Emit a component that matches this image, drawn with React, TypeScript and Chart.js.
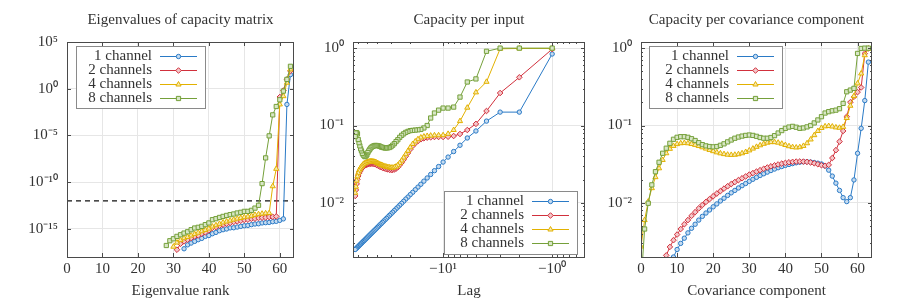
import React, { useEffect, useRef } from 'react';
import { Chart, registerables } from 'chart.js';

Chart.register(...registerables);

const FONT = "'Liberation Serif', 'Times New Roman', serif";
const TEXT = '#333333';
const FRAME = '#4a4a4a';
const GRID = '#e6e6e6';
const LEGEND_BORDER = '#8a8a8a';

const seriesNames = ['1 channel', '2 channels', '4 channels', '8 channels'];
const lineColors = ['#2a7ac6', '#d1303c', '#e2b100', '#75a03a'];
const fillColors = ['#c5dbf0', '#f3c6c9', '#f7e9b0', '#d8e6c6'];
const markerStyles = ['circle', 'rectRot', 'triangle', 'rect'];
const markerRadius = [2.2, 2.8, 3, 3];

// ---------- Panel 1: eigenvalues ----------
const ranks = [0, 1, 2, 3, 4, 5, 6, 7, 8, 9, 10, 11, 12, 13, 14, 15, 16, 17, 18, 19, 20, 21, 22, 23, 24, 25, 26, 27, 28, 29, 30, 31, 32, 33, 34, 35, 36, 37, 38, 39, 40, 41, 42, 43, 44, 45, 46, 47, 48, 49, 50, 51, 52, 53, 54, 55, 56, 57, 58, 59, 60, 61, 62, 63];
const eigStart = [33, 31, 30, 28];
const eig1ch = [7.6e-18, 2.0e-17, 3.1e-17, 4.7e-17, 7.1e-17, 9.8e-17, 1.6e-16, 2.0e-16, 3.1e-16, 4.3e-16, 6.5e-16, 8.3e-16, 1.0e-15, 1.3e-15, 1.35e-15, 1.6e-15, 1.9e-15, 2.2e-15, 2.4e-15, 2.9e-15, 3.4e-15, 3.6e-15, 4.4e-15, 4.7e-15, 5.0e-15, 6.0e-15, 6.5e-15, 8.3e-15, 1.2e-14, 2.1e-2, 32];
const eig2ch = [6.0e-18, 2.6e-17, 4.7e-17, 7.1e-17, 1.07e-16, 1.6e-16, 2.0e-16, 3.1e-16, 4.3e-16, 7.1e-16, 1.3e-15, 1.6e-15, 2.2e-15, 2.9e-15, 3.6e-15, 4.4e-15, 5.5e-15, 6.5e-15, 7.6e-15, 9.1e-15, 9.8e-15, 1.2e-14, 1.26e-14, 1.5e-14, 1.6e-14, 1.7e-14, 1.9e-14, 2.0e-14, 2.2e-14, 0.13, 0.63, 10, 80];
const eig4ch = [1.26e-17, 3.5e-17, 6.3e-17, 1.0e-16, 1.4e-16, 2.0e-16, 2.8e-16, 4.0e-16, 5.6e-16, 7.9e-16, 1.1e-15, 1.8e-15, 2.5e-15, 3.5e-15, 5.0e-15, 6.3e-15, 7.9e-15, 1.0e-14, 1.26e-14, 1.5e-14, 1.8e-14, 2.1e-14, 2.5e-14, 3.2e-14, 3.8e-14, 4.3e-14, 4.7e-14, 5.0e-14, 3.7e-11, 2.7e-9, 2.1e-2, 0.16, 4.4, 117];
const eig8ch = [1.7e-17, 5.5e-17, 8.9e-17, 1.6e-16, 2.4e-16, 3.6e-16, 5.0e-16, 8.3e-16, 1.26e-15, 1.5e-15, 1.9e-15, 2.9e-15, 4.4e-15, 9.8e-15, 1.26e-14, 1.7e-14, 2.2e-14, 2.8e-14, 3.4e-14, 4.0e-14, 5.1e-14, 6.0e-14, 7.6e-14, 7.6e-14, 9.8e-14, 1.7e-13, 3.4e-13, 7.1e-11, 4.0e-8, 9.1e-6, 1.6e-3, 1.26e-2, 6.6e-2, 0.56, 10, 250];
const eigThreshold = 1e-12;
const eigXTicks = [0, 10, 20, 30, 40, 50, 60];
const eigYTicks = [1e-15, 1e-10, 1e-5, 1, 1e5];
const eigYTickLabels = ['10⁻¹⁵', '10⁻¹⁰', '10⁻⁵', '10⁰', '10⁵'];

// ---------- Panel 2: capacity per input (lag) ----------
const lags = [1, 2, 3, 4, 5, 6, 7, 8, 9, 10, 11, 12, 13, 14, 15, 16, 17, 18, 19, 20, 21, 22, 23, 24, 25, 26, 27, 28, 29, 30, 31, 32, 33, 34, 35, 36, 37, 38, 39, 40, 41, 42, 43, 44, 45, 46, 47, 48, 49, 50, 51, 52, 53, 54, 55, 56, 57, 58, 59, 60, 61, 62, 63, 64];
const lag1ch = [0.84, 0.149, 0.149, 0.114, 0.085, 0.069, 0.0556, 0.0461, 0.0391, 0.0337, 0.0295, 0.0261, 0.0233, 0.021, 0.0191, 0.0174, 0.016, 0.0148, 0.0137, 0.0128, 0.0119, 0.0112, 0.0105, 0.00988, 0.00933, 0.00883, 0.00838, 0.00796, 0.00758, 0.00722, 0.0069, 0.0066, 0.00632, 0.00606, 0.00582, 0.0056, 0.00538, 0.00519, 0.005, 0.00483, 0.00466, 0.00451, 0.00436, 0.00422, 0.00409, 0.00397, 0.00385, 0.00374, 0.00363, 0.00353, 0.00343, 0.00334, 0.00325, 0.00317, 0.00309, 0.00301, 0.00294, 0.00287, 0.0028, 0.00273, 0.00267, 0.00261, 0.00256, 0.0025];
const lag2ch = [0.97, 0.42, 0.263, 0.154, 0.105, 0.0875, 0.0777, 0.0732, 0.0716, 0.0711, 0.0711, 0.0711, 0.0704, 0.0697, 0.0684, 0.0664, 0.0631, 0.0589, 0.0544, 0.0492, 0.0442, 0.04, 0.0362, 0.0331, 0.0309, 0.0289, 0.0277, 0.0271, 0.0267, 0.0267, 0.0268, 0.0271, 0.0274, 0.0277, 0.0281, 0.0285, 0.029, 0.0294, 0.03, 0.0306, 0.0311, 0.0316, 0.0319, 0.0321, 0.0322, 0.0322, 0.0321, 0.0319, 0.0316, 0.0312, 0.0309, 0.0306, 0.03, 0.0294, 0.0285, 0.0277, 0.0267, 0.0254, 0.0242, 0.0223, 0.0202, 0.0176, 0.0147, 0.0123];
const lag4ch = [0.99, 0.99, 0.98, 0.367, 0.268, 0.17, 0.114, 0.0875, 0.078, 0.075, 0.0748, 0.0747, 0.074, 0.0733, 0.072, 0.07, 0.0666, 0.0622, 0.0577, 0.0522, 0.047, 0.0425, 0.0385, 0.0352, 0.0328, 0.0307, 0.0295, 0.0289, 0.0285, 0.0286, 0.0287, 0.029, 0.0293, 0.0296, 0.0301, 0.0305, 0.031, 0.0315, 0.0321, 0.0327, 0.0333, 0.0338, 0.0341, 0.0343, 0.0345, 0.0345, 0.0343, 0.0341, 0.0338, 0.0334, 0.0331, 0.0327, 0.0321, 0.0315, 0.0305, 0.0297, 0.0287, 0.0274, 0.0261, 0.0242, 0.022, 0.0194, 0.0162, 0.0135];
const lag8ch = [1.0, 1.0, 1.0, 0.91, 0.4, 0.365, 0.233, 0.173, 0.168, 0.168, 0.158, 0.145, 0.125, 0.1, 0.093, 0.089, 0.088, 0.0873, 0.0866, 0.0859, 0.0839, 0.0815, 0.078, 0.0746, 0.0704, 0.0655, 0.062, 0.0583, 0.0556, 0.0533, 0.052, 0.0516, 0.0513, 0.0513, 0.0516, 0.0523, 0.0528, 0.0539, 0.0546, 0.055, 0.0552, 0.0552, 0.0546, 0.0539, 0.0528, 0.0513, 0.0493, 0.047, 0.0447, 0.0417, 0.0405, 0.0396, 0.0405, 0.0417, 0.0437, 0.047, 0.05, 0.0546, 0.06, 0.066, 0.078, 0.081, 0.08, 0.072];
const lagXTicks = [1, 10];
const lagXTickLabels = ['−10⁰', '−10¹'];
const lagXMinor = [0.6, 0.7, 0.8, 0.9, 2, 3, 4, 5, 6, 7, 8, 9, 20, 30, 40, 50, 60];

// ---------- Panel 3: capacity per covariance component ----------
const components = [0, 1, 2, 3, 4, 5, 6, 7, 8, 9, 10, 11, 12, 13, 14, 15, 16, 17, 18, 19, 20, 21, 22, 23, 24, 25, 26, 27, 28, 29, 30, 31, 32, 33, 34, 35, 36, 37, 38, 39, 40, 41, 42, 43, 44, 45, 46, 47, 48, 49, 50, 51, 52, 53, 54, 55, 56, 57, 58, 59, 60, 61, 62, 63];
const covStart = [9, 7, 0, 0];
const cov1ch = [0.002, 0.0025, 0.003, 0.0035, 0.0041, 0.0047, 0.0053, 0.006, 0.0067, 0.0074, 0.0081, 0.0089, 0.0097, 0.0106, 0.0115, 0.0125, 0.0135, 0.0145, 0.0156, 0.0167, 0.0178, 0.019, 0.0202, 0.0214, 0.0226, 0.0238, 0.025, 0.0262, 0.0274, 0.0285, 0.0295, 0.0305, 0.0314, 0.0322, 0.033, 0.0336, 0.034, 0.034, 0.0337, 0.0332, 0.0326, 0.0318, 0.03, 0.0265, 0.0222, 0.018, 0.0145, 0.0117, 0.0104, 0.0117, 0.0198, 0.0438, 0.092, 0.21, 0.66];
const cov2ch = [0.0021, 0.0027, 0.0033, 0.0039, 0.0046, 0.0053, 0.006, 0.0068, 0.0076, 0.0085, 0.0094, 0.0103, 0.0112, 0.0122, 0.0132, 0.0142, 0.0153, 0.0164, 0.0175, 0.0186, 0.0197, 0.0208, 0.022, 0.0232, 0.0243, 0.0254, 0.0265, 0.0276, 0.0287, 0.0297, 0.0306, 0.0314, 0.0322, 0.0329, 0.0335, 0.0339, 0.0342, 0.0343, 0.0342, 0.0339, 0.0333, 0.0325, 0.0316, 0.0307, 0.0302, 0.031, 0.038, 0.048, 0.062, 0.085, 0.13, 0.2, 0.235, 0.27, 0.31, 0.85, 0.99];
const cov4ch = [0.00273, 0.006, 0.0104, 0.0155, 0.0215, 0.028, 0.0359, 0.0438, 0.05, 0.0545, 0.0575, 0.059, 0.0595, 0.059, 0.0578, 0.0562, 0.0543, 0.0523, 0.0503, 0.0484, 0.0466, 0.045, 0.0437, 0.0427, 0.042, 0.0417, 0.0419, 0.0426, 0.0438, 0.0455, 0.0477, 0.0503, 0.053, 0.0555, 0.058, 0.06, 0.061, 0.061, 0.06, 0.0582, 0.056, 0.054, 0.0526, 0.052, 0.0525, 0.0545, 0.059, 0.066, 0.075, 0.085, 0.093, 0.0975, 0.0985, 0.097, 0.0945, 0.0935, 0.096, 0.125, 0.18, 0.24, 0.35, 0.47, 0.81, 0.98];
const cov8ch = [0.0009, 0.0046, 0.0099, 0.0171, 0.0253, 0.0335, 0.0438, 0.0509, 0.0589, 0.0664, 0.0704, 0.0717, 0.0717, 0.0704, 0.0675, 0.064, 0.06, 0.0566, 0.0546, 0.0535, 0.053, 0.0535, 0.0555, 0.058, 0.0615, 0.065, 0.0685, 0.071, 0.073, 0.0745, 0.0754, 0.0745, 0.0725, 0.07, 0.0685, 0.0685, 0.07, 0.074, 0.08, 0.086, 0.092, 0.0955, 0.0975, 0.095, 0.092, 0.093, 0.096, 0.1, 0.108, 0.118, 0.13, 0.145, 0.151, 0.155, 0.158, 0.165, 0.193, 0.273, 0.287, 0.302, 0.854, 0.99, 1.0, 1.0];
const covXTicks = [0, 10, 20, 30, 40, 50, 60];

// shared y ticks of panels 2 and 3
const capYTicks = [0.01, 0.1, 1];
const capYTickLabels = ['10⁻²', '10⁻¹', '10⁰'];
const capYMinor = [0.003, 0.004, 0.005, 0.006, 0.007, 0.008, 0.009, 0.02, 0.03, 0.04, 0.05, 0.06, 0.07, 0.08, 0.09, 0.2, 0.3, 0.4, 0.5, 0.6, 0.7, 0.8, 0.9];

type Pt = { x: number; y: number };

function fromStart(xs: number[], start: number, vals: number[]): Pt[] {
  return vals.map((v, i) => ({ x: xs[start + i], y: v }));
}

function labelFor(ticks: number[], labels: string[] | null, v: number): string {
  const i = ticks.findIndex((t) => Math.abs(t - v) <= Math.abs(t) * 1e-6 + 1e-12);
  if (i < 0) return '';
  return labels ? labels[i] : String(ticks[i]);
}

function drawMarker(ctx: CanvasRenderingContext2D, style: string, x: number, y: number, r: number, stroke: string, fill: string) {
  ctx.beginPath();
  if (style === 'circle') {
    ctx.arc(x, y, r, 0, Math.PI * 2);
  } else if (style === 'rect') {
    const s = r * Math.SQRT1_2;
    ctx.rect(x - s, y - s, 2 * s, 2 * s);
  } else if (style === 'rectRot') {
    ctx.moveTo(x, y - r);
    ctx.lineTo(x + r, y);
    ctx.lineTo(x, y + r);
    ctx.lineTo(x - r, y);
    ctx.closePath();
  } else {
    for (let k = 0; k < 3; k++) {
      const a = (k * 2 * Math.PI) / 3;
      const px = x + Math.sin(a) * r;
      const py = y - Math.cos(a) * r;
      if (k === 0) ctx.moveTo(px, py);
      else ctx.lineTo(px, py);
    }
    ctx.closePath();
  }
  ctx.fillStyle = fill;
  ctx.fill();
  ctx.strokeStyle = stroke;
  ctx.lineWidth = 1;
  ctx.stroke();
}

type PanelCfg = {
  title: string;
  xTitle: string;
  xType: 'linear' | 'logarithmic';
  xMin: number;
  xMax: number;
  xReverse: boolean;
  xTicks: number[];
  xTickLabels: string[] | null;
  xMinor: number[];
  yMin: number;
  yMax: number;
  yTicks: number[];
  yTickLabels: string[];
  yMinor: number[];
  yAxisWidth: number;
  rightPad: number;
  series: Pt[][];
  extra: any[];
  legend: { corner: 'tl' | 'br'; mx: number; my: number; w: number; h: number };
};

function makeDeco(cfg: PanelCfg) {
  return {
    id: 'deco',
    afterDraw(chart: any) {
      const { ctx, chartArea: a } = chart;
      const xs = chart.scales.x;
      const ys = chart.scales.y;
      ctx.save();
      ctx.strokeStyle = FRAME;
      ctx.lineWidth = 1;
      ctx.beginPath();
      const xMarks = (vals: number[], len: number) => {
        vals.forEach((v) => {
          const p = Math.round(xs.getPixelForValue(v)) + 0.5;
          if (p < a.left - 0.5 || p > a.right + 0.5) return;
          ctx.moveTo(p, a.bottom);
          ctx.lineTo(p, a.bottom - len);
          ctx.moveTo(p, a.top);
          ctx.lineTo(p, a.top + len);
        });
      };
      const yMarks = (vals: number[], len: number) => {
        vals.forEach((v) => {
          const p = Math.round(ys.getPixelForValue(v)) + 0.5;
          if (p < a.top - 0.5 || p > a.bottom + 0.5) return;
          ctx.moveTo(a.left, p);
          ctx.lineTo(a.left + len, p);
          ctx.moveTo(a.right, p);
          ctx.lineTo(a.right - len, p);
        });
      };
      xMarks(cfg.xTicks, 4);
      xMarks(cfg.xMinor, 2);
      yMarks(cfg.yTicks, 4);
      yMarks(cfg.yMinor, 2);
      ctx.stroke();
      ctx.strokeRect(Math.round(a.left) + 0.5, Math.round(a.top) + 0.5, Math.round(a.right - a.left) - 1, Math.round(a.bottom - a.top));

      // legend
      const L = cfg.legend;
      const bx = Math.round(L.corner === 'tl' ? a.left + L.mx : a.right - L.mx - L.w);
      const by = Math.round(L.corner === 'tl' ? a.top + L.my : a.bottom - L.my - L.h);
      ctx.fillStyle = '#ffffff';
      ctx.fillRect(bx, by, L.w, L.h);
      ctx.strokeStyle = LEGEND_BORDER;
      ctx.lineWidth = 1;
      ctx.strokeRect(bx + 0.5, by + 0.5, L.w, L.h);
      ctx.font = `15px ${FONT}`;
      ctx.textAlign = 'right';
      ctx.textBaseline = 'middle';
      seriesNames.forEach((name, i) => {
        const cy = by + 10.5 + 14 * i;
        const lineEnd = bx + L.w - 8;
        const lineStart = lineEnd - 37;
        const textRight = lineStart - 8;
        ctx.fillStyle = TEXT;
        ctx.fillText(name, textRight, cy);
        ctx.strokeStyle = lineColors[i];
        ctx.lineWidth = 1;
        ctx.beginPath();
        ctx.moveTo(lineStart, cy);
        ctx.lineTo(lineEnd, cy);
        ctx.stroke();
        drawMarker(ctx, markerStyles[i], (lineStart + lineEnd) / 2, cy, markerRadius[i], lineColors[i], fillColors[i]);
      });
      ctx.restore();
    },
  };
}

function buildConfig(cfg: PanelCfg): any {
  const datasets = [
    ...cfg.series.map((pts, i) => ({
      label: seriesNames[i],
      data: pts,
      borderColor: lineColors[i],
      backgroundColor: fillColors[i],
      borderWidth: 1,
      pointStyle: markerStyles[i],
      pointRadius: markerRadius[i],
      pointBorderWidth: 1,
      pointBorderColor: lineColors[i],
      pointBackgroundColor: fillColors[i],
      tension: 0,
      fill: false,
      order: 4 - i,
    })),
    ...cfg.extra,
  ];
  const tickFont = { family: FONT, size: 15 };
  return {
    type: 'line',
    data: { datasets },
    plugins: [makeDeco(cfg)],
    options: {
      responsive: false,
      maintainAspectRatio: false,
      animation: false,
      events: [],
      layout: { padding: { left: 0, right: cfg.rightPad, top: 0, bottom: 0 } },
      plugins: {
        legend: { display: false },
        tooltip: { enabled: false },
        title: {
          display: true,
          text: cfg.title,
          color: TEXT,
          fullSize: false,
          font: { family: FONT, size: 15, weight: 'normal', lineHeight: 1.2 },
          padding: { top: 11, bottom: 13 },
        },
      },
      scales: {
        x: {
          type: cfg.xType,
          min: cfg.xMin,
          max: cfg.xMax,
          reverse: cfg.xReverse,
          afterBuildTicks: (s: any) => {
            s.ticks = cfg.xTicks.map((v) => ({ value: v }));
          },
          afterFit: (s: any) => {
            s.height = 45;
          },
          ticks: {
            autoSkip: false,
            maxRotation: 0,
            padding: 3,
            color: TEXT,
            font: tickFont,
            callback: (v: number) => labelFor(cfg.xTicks, cfg.xTickLabels, v),
          },
          grid: { color: GRID, drawTicks: false, lineWidth: 1 },
          border: { display: false },
          title: {
            display: true,
            text: cfg.xTitle,
            color: TEXT,
            font: { family: FONT, size: 15, lineHeight: 1.2 },
            padding: { top: 0, bottom: 2 },
          },
        },
        y: {
          type: 'logarithmic',
          min: cfg.yMin,
          max: cfg.yMax,
          afterBuildTicks: (s: any) => {
            s.ticks = cfg.yTicks.map((v) => ({ value: v }));
          },
          afterFit: (s: any) => {
            s.width = cfg.yAxisWidth;
          },
          ticks: {
            autoSkip: false,
            padding: 9,
            color: TEXT,
            font: tickFont,
            callback: (v: number) => labelFor(cfg.yTicks, cfg.yTickLabels, v),
          },
          grid: { color: GRID, drawTicks: false, lineWidth: 1 },
          border: { display: false },
        },
      },
    },
  };
}

const panel1: PanelCfg = {
  title: 'Eigenvalues of capacity matrix',
  xTitle: 'Eigenvalue rank',
  xType: 'linear',
  xMin: 0,
  xMax: 64,
  xReverse: false,
  xTicks: eigXTicks,
  xTickLabels: null,
  xMinor: [],
  yMin: 1e-18,
  yMax: 1e5,
  yTicks: eigYTicks,
  yTickLabels: eigYTickLabels,
  yMinor: [],
  yAxisWidth: 67,
  rightPad: 1,
  series: [
    fromStart(ranks, eigStart[0], eig1ch),
    fromStart(ranks, eigStart[1], eig2ch),
    fromStart(ranks, eigStart[2], eig4ch),
    fromStart(ranks, eigStart[3], eig8ch),
  ],
  extra: [
    {
      label: 'threshold',
      data: [
        { x: 0, y: eigThreshold },
        { x: 64, y: eigThreshold },
      ],
      borderColor: '#111111',
      borderWidth: 1.2,
      borderDash: [5, 4],
      pointRadius: 0,
      fill: false,
      order: 6,
    },
  ],
  legend: { corner: 'tl', mx: 9, my: 4, w: 129, h: 62 },
};

const panel2: PanelCfg = {
  title: 'Capacity per input',
  xTitle: 'Lag',
  xType: 'logarithmic',
  xMin: 0.5,
  xMax: 67,
  xReverse: true,
  xTicks: lagXTicks,
  xTickLabels: lagXTickLabels,
  xMinor: lagXMinor,
  yMin: 0.002,
  yMax: 1.2,
  yTicks: capYTicks,
  yTickLabels: capYTickLabels,
  yMinor: capYMinor,
  yAxisWidth: 54,
  rightPad: 13,
  series: [
    lags.map((l, i) => ({ x: l, y: lag1ch[i] })),
    lags.map((l, i) => ({ x: l, y: lag2ch[i] })),
    lags.map((l, i) => ({ x: l, y: lag4ch[i] })),
    lags.map((l, i) => ({ x: l, y: lag8ch[i] })),
  ],
  extra: [],
  legend: { corner: 'br', mx: 8, my: 3, w: 133, h: 63 },
};

const panel3: PanelCfg = {
  title: 'Capacity per covariance component',
  xTitle: 'Covariance component',
  xType: 'linear',
  xMin: 0,
  xMax: 64,
  xReverse: false,
  xTicks: covXTicks,
  xTickLabels: null,
  xMinor: [],
  yMin: 0.002,
  yMax: 1.2,
  yTicks: capYTicks,
  yTickLabels: capYTickLabels,
  yMinor: capYMinor,
  yAxisWidth: 43,
  rightPad: 25,
  series: [
    fromStart(components, covStart[0], cov1ch),
    fromStart(components, covStart[1], cov2ch),
    fromStart(components, covStart[2], cov4ch),
    fromStart(components, covStart[3], cov8ch),
  ],
  extra: [],
  legend: { corner: 'tl', mx: 8, my: 4, w: 133, h: 62 },
};

function Panel({ cfg, left, width }: { cfg: PanelCfg; left: number; width: number }) {
  const ref = useRef<HTMLCanvasElement>(null);
  useEffect(() => {
    if (!ref.current) return;
    const chart = new Chart(ref.current, buildConfig(cfg));
    return () => chart.destroy();
  }, [cfg]);
  return (
    <canvas
      ref={ref}
      width={width}
      height={302}
      style={{ position: 'absolute', left, top: 0, width, height: 302, display: 'block' }}
    />
  );
}

export default function App() {
  return (
    <div style={{ position: 'fixed', left: 0, top: 0, width: 897, height: 302, background: '#ffffff', overflow: 'hidden' }}>
      <Panel cfg={panel1} left={0} width={299} />
      <Panel cfg={panel2} left={299} width={299} />
      <Panel cfg={panel3} left={598} width={299} />
    </div>
  );
}
